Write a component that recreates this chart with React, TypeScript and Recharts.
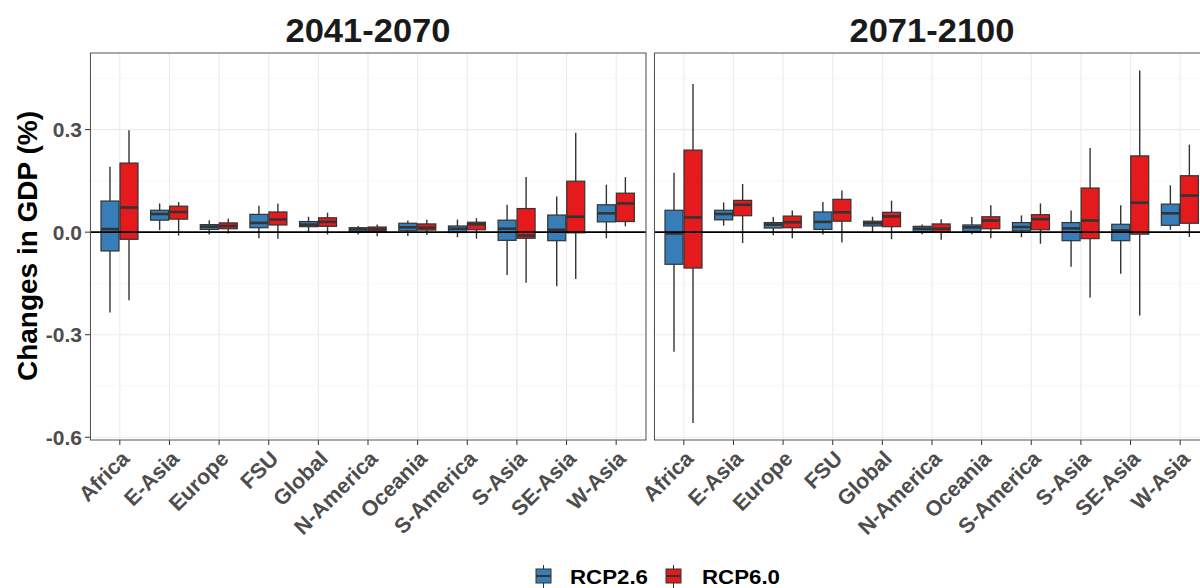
import React from "react";
import { Bar, CartesianGrid, ComposedChart, ReferenceLine, XAxis, YAxis } from "recharts";

// five-number summaries per region: [low whisker, q1, median, q3, high whisker]
type Stats = [number, number, number, number, number];

const regions = [
  "Africa",
  "E-Asia",
  "Europe",
  "FSU",
  "Global",
  "N-America",
  "Oceania",
  "S-America",
  "S-Asia",
  "SE-Asia",
  "W-Asia",
];

const midRcp26: Stats[] = [
  [-0.235, -0.055, 0.009, 0.091, 0.191],
  [0.006, 0.035, 0.053, 0.064, 0.084],
  [-0.007, 0.008, 0.016, 0.022, 0.035],
  [-0.018, 0.013, 0.027, 0.052, 0.077],
  [0.0, 0.016, 0.022, 0.031, 0.045],
  [-0.007, 0.001, 0.008, 0.013, 0.018],
  [-0.011, 0.004, 0.014, 0.026, 0.034],
  [-0.015, -0.001, 0.01, 0.018, 0.037],
  [-0.125, -0.024, 0.01, 0.035, 0.08],
  [-0.158, -0.025, 0.007, 0.05, 0.104],
  [-0.018, 0.03, 0.055, 0.08, 0.139],
];

const midRcp60: Stats[] = [
  [-0.199, -0.021, 0.072, 0.202, 0.298],
  [-0.01, 0.038, 0.059, 0.076, 0.088],
  [-0.004, 0.01, 0.018, 0.027, 0.039],
  [-0.019, 0.021, 0.037, 0.059, 0.084],
  [-0.007, 0.017, 0.03, 0.042, 0.057],
  [-0.012, 0.001, 0.008, 0.015, 0.022],
  [-0.008, 0.006, 0.013, 0.024, 0.036],
  [-0.019, 0.007, 0.023, 0.029, 0.041],
  [-0.148, -0.018, -0.01, 0.069, 0.161],
  [-0.137, -0.002, 0.045, 0.149, 0.291],
  [0.017, 0.031, 0.084, 0.114, 0.161],
];

const lateRcp26: Stats[] = [
  [-0.35, -0.094, -0.004, 0.064, 0.174],
  [0.019, 0.036, 0.053, 0.064, 0.087],
  [-0.009, 0.012, 0.022, 0.028, 0.044],
  [-0.007, 0.008, 0.03, 0.059, 0.088],
  [0.001, 0.018, 0.026, 0.032, 0.045],
  [-0.006, 0.001, 0.01, 0.017, 0.022],
  [-0.006, 0.002, 0.014, 0.021, 0.044],
  [-0.015, 0.004, 0.015, 0.028, 0.049],
  [-0.101, -0.025, 0.011, 0.028, 0.063],
  [-0.122, -0.025, 0.005, 0.023, 0.079],
  [0.007, 0.02, 0.055, 0.082, 0.137],
];

const lateRcp60: Stats[] = [
  [-0.558, -0.105, 0.043, 0.24, 0.433],
  [-0.032, 0.048, 0.08, 0.093, 0.141],
  [-0.018, 0.013, 0.029, 0.047, 0.063],
  [-0.03, 0.032, 0.058, 0.096, 0.122],
  [-0.021, 0.016, 0.046, 0.058, 0.092],
  [-0.022, 0.001, 0.01, 0.024, 0.038],
  [-0.018, 0.01, 0.034, 0.045, 0.079],
  [-0.034, 0.007, 0.038, 0.051, 0.084],
  [-0.191, -0.019, 0.034, 0.129, 0.246],
  [-0.244, -0.006, 0.086, 0.223, 0.473],
  [-0.014, 0.026, 0.107, 0.165, 0.256],
];

const yTicks = [-0.6, -0.3, 0, 0.3];
const yMinor = [-0.45, -0.15, 0.15, 0.45];
const yDomain: [number, number] = [-0.608, 0.524];

const BLUE = "#377EB8";
const RED = "#E41A1C";
const INK = "#333333";
const FONT = "'Liberation Sans', Arial, sans-serif";

function boxShape(key: "lo" | "hi", fill: string) {
  return (props: any) => {
    const { x, y, width, height, payload } = props;
    const [wl, q1, med, q3, wh] = payload[key] as Stats;
    const top = Math.min(y, y + height);
    const h = Math.abs(height);
    const py = (v: number) => top + ((wh - v) / (wh - wl)) * h;
    const cx = x + width / 2;
    return (
      <g>
        <line x1={cx} x2={cx} y1={py(wh)} y2={py(q3)} stroke={INK} strokeWidth={1.4} />
        <line x1={cx} x2={cx} y1={py(q1)} y2={py(wl)} stroke={INK} strokeWidth={1.4} />
        <rect x={x} y={py(q3)} width={width} height={py(q1) - py(q3)} fill={fill} stroke={INK} strokeWidth={1.2} />
        <line x1={x} x2={x + width} y1={py(med)} y2={py(med)} stroke={INK} strokeWidth={2.6} />
      </g>
    );
  };
}

function RegionTick({ x, y, payload }: any) {
  return (
    <text
      x={x}
      y={y}
      dy="0.72em"
      textAnchor="end"
      transform={`rotate(-45, ${x}, ${y})`}
      fill="#4d4d4d"
      fontSize={21.5}
      fontWeight="bold"
      fontFamily={FONT}
    >
      {payload.value}
    </text>
  );
}

function Panel({ left, width, marginLeft, showY, s26, s60 }: {
  left: number;
  width: number;
  marginLeft: number;
  showY: boolean;
  s26: Stats[];
  s60: Stats[];
}) {
  const rows = regions.map((region, i) => ({ region, lo: s26[i], hi: s60[i] }));
  return (
    <div style={{ position: "absolute", left, top: 0 }}>
      <ComposedChart
        width={width}
        height={588}
        data={rows}
        margin={{ top: 53, right: 14, bottom: 88, left: marginLeft }}
        barSize={18}
        barGap={1}
      >
        <CartesianGrid stroke="#ebebeb" strokeWidth={1.1} horizontalValues={yTicks} />
        <CartesianGrid stroke="#f2f2f2" strokeWidth={0.6} vertical={false} horizontalValues={yMinor} />
        <XAxis
          dataKey="region"
          interval={0}
          height={60}
          padding={{ left: 5, right: 5 }}
          axisLine={false}
          tickSize={5}
          tickMargin={4}
          tickLine={{ stroke: INK }}
          tick={<RegionTick />}
        />
        <YAxis
          hide={!showY}
          width={90}
          type="number"
          domain={yDomain}
          allowDataOverflow
          ticks={yTicks}
          tickFormatter={(v: number) => v.toFixed(1)}
          axisLine={false}
          tickSize={5}
          tickMargin={3}
          tickLine={{ stroke: INK }}
          tick={{ fill: "#4d4d4d", fontSize: 21, fontWeight: "bold", fontFamily: FONT }}
        />
        <Bar
          dataKey={(r: any) => [r.lo[0], r.lo[4]]}
          shape={boxShape("lo", BLUE)}
          isAnimationActive={false}
        />
        <Bar
          dataKey={(r: any) => [r.hi[0], r.hi[4]]}
          shape={boxShape("hi", RED)}
          isAnimationActive={false}
        />
        <ReferenceLine y={0} stroke="#000" strokeWidth={1.6} />
      </ComposedChart>
    </div>
  );
}

function LegendKey({ x, fill }: { x: number; fill: string }) {
  return (
    <g>
      <line x1={x + 7.5} x2={x + 7.5} y1={565} y2={588} stroke={INK} strokeWidth={1} />
      <rect x={x} y={569} width={15} height={14} fill={fill} stroke={INK} strokeWidth={1} />
      <line x1={x} x2={x + 15} y1={576} y2={576} stroke={INK} strokeWidth={2} />
    </g>
  );
}

export default function App() {
  return (
    <div
      style={{
        position: "absolute",
        left: 0,
        top: 0,
        width: 1200,
        height: 588,
        overflow: "hidden",
        background: "#fff",
        fontFamily: FONT,
      }}
    >
      <Panel left={0} width={660} marginLeft={0} showY s26={midRcp26} s60={midRcp60} />
      <Panel left={600} width={624} marginLeft={54} showY={false} s26={lateRcp26} s60={lateRcp60} />
      <svg
        width={1200}
        height={588}
        style={{ position: "absolute", left: 0, top: 0, pointerEvents: "none" }}
        fontFamily={FONT}
      >
        <rect x={90.5} y={53} width={555.5} height={387} fill="none" stroke="#555" strokeWidth={1} />
        <rect x={654.5} y={53} width={555.5} height={387} fill="none" stroke="#555" strokeWidth={1} />
        <text x={368} y={42} textAnchor="middle" fontSize={33} textLength={165} lengthAdjust="spacingAndGlyphs" fontWeight="bold" fill="#1a1a1a">
          2041-2070
        </text>
        <text x={932} y={42} textAnchor="middle" fontSize={33} textLength={165} lengthAdjust="spacingAndGlyphs" fontWeight="bold" fill="#1a1a1a">
          2071-2100
        </text>
        <text
          x={37}
          y={246}
          transform="rotate(-90, 37, 246)"
          textAnchor="middle"
          fontSize={28}
          fontWeight="bold"
          fill="#000"
        >
          Changes in GDP (%)
        </text>
        <LegendKey x={536} fill={BLUE} />
        <text x={570} y={584} fontSize={20} textLength={78} lengthAdjust="spacingAndGlyphs" fontWeight="bold" fill="#000">
          RCP2.6
        </text>
        <LegendKey x={666} fill={RED} />
        <text x={702} y={584} fontSize={20} textLength={78} lengthAdjust="spacingAndGlyphs" fontWeight="bold" fill="#000">
          RCP6.0
        </text>
      </svg>
    </div>
  );
}
